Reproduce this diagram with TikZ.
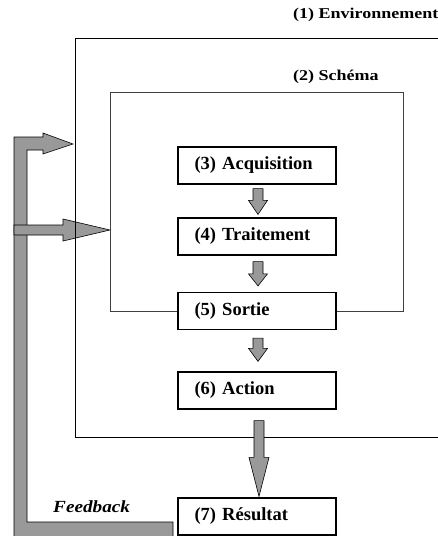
\documentclass[tikz,border=0pt]{standalone}
\usepackage{fontspec}
\setmainfont{Liberation Serif}
\newfontfamily\widefont[FakeStretch=1.2]{Liberation Serif}
\newfontfamily\feedfont[FakeStretch=1.13]{Liberation Serif}
\usetikzlibrary{calc}

\tikzset{
  stage/.style={draw, line width=1.2pt, fill=white, minimum height=37pt, text width=125pt, inner xsep=16.5pt, align=left, font=\fontsize{18.5}{22}\selectfont\bfseries},
  frame/.style={line width=0.8pt},
  schemaframe/.style={line width=0.6pt, draw=black!75},
  fatarrow/.style={draw, line width=0.6pt, fill=black!40},
  title/.style={anchor=base west, inner sep=0pt, font=\widefont\fontsize{15}{18}\selectfont\bfseries}
}

% fat arrow pointing down: start, tip, shaft half width, head half width, head length
\newcommand{\fatdown}[5]{%
  \draw[fatarrow] ($(#1)+(-#3,0)$) -- ($(#2)+(-#3,-#5)$) -- ($(#2)+(-#4,-#5)$) -- (#2)
    -- ($(#2)+(#4,-#5)$) -- ($(#2)+(#3,-#5)$) -- ($(#1)+(#3,0)$) -- cycle;}

\begin{document}
\begin{tikzpicture}[x=1pt, y=-1pt]
\useasboundingbox (0,0) rectangle (437,536);

% Define points
\coordinate (envin) at (73,144);
\coordinate (schin) at (110,230);

% Feedback loop
\draw[fatarrow] (173,522) -- (27,522) -- (27,150) -- (43,150) -- (43,154) -- (envin)
  -- (43,133) -- (43,137) -- (14,137) -- (14,538) -- (173,538) -- cycle;
\draw[fatarrow] (14,225) -- (63,225) -- (63,219) -- (schin) -- (63,241) -- (63,235) -- (14,235) -- cycle;

% Frames
\draw[frame] (440,38) -- (75,38) -- (75,437) -- (440,437);
\draw[schemaframe] (110,92) rectangle (403,311);

% Stages
\node[stage] (acq) at (257,165.5) {(3) Acquisition};
\node[stage] (trait) at (257,236.5) {(4) Traitement};
\node[stage] (sortie) at (257,311) {(5) Sortie};
\node[stage] (action) at (257,390.5) {(6) Action};
\node[stage] (res) at (257,516.5) {(7) Résultat};

% Arrows between stages
\coordinate (a1) at ([xshift=1pt,yshift=-4pt]acq.south);
\coordinate (b1) at ([xshift=1pt,yshift=3pt]trait.north);
\coordinate (a2) at ([xshift=1pt,yshift=-6pt]trait.south);
\coordinate (b2) at ([xshift=1pt,yshift=6pt]sortie.north);
\coordinate (a3) at ([xshift=1pt,yshift=-8pt]sortie.south);
\coordinate (b3) at ([xshift=1pt,yshift=10pt]action.north);
\coordinate (a4) at ([xshift=2pt,yshift=-11pt]action.south);
\coordinate (b4) at ([xshift=2pt,yshift=1pt]res.north);
\fatdown{a1}{b1}{5}{9.5}{14}
\fatdown{a2}{b2}{5}{9.5}{12}
\fatdown{a3}{b3}{5}{9.5}{13}
\fatdown{a4}{b4}{5}{10}{39}

% Labels
\node[title] (env) at (293,18) {(1) Environnement};
\node[title] (sch) at (293,80) {(2) Schéma};
\node[anchor=base west, inner sep=0pt, font=\feedfont\fontsize{17}{20}\selectfont\bfseries\itshape] (fb) at (53,512) {Feedback};

\end{tikzpicture}
\end{document}
